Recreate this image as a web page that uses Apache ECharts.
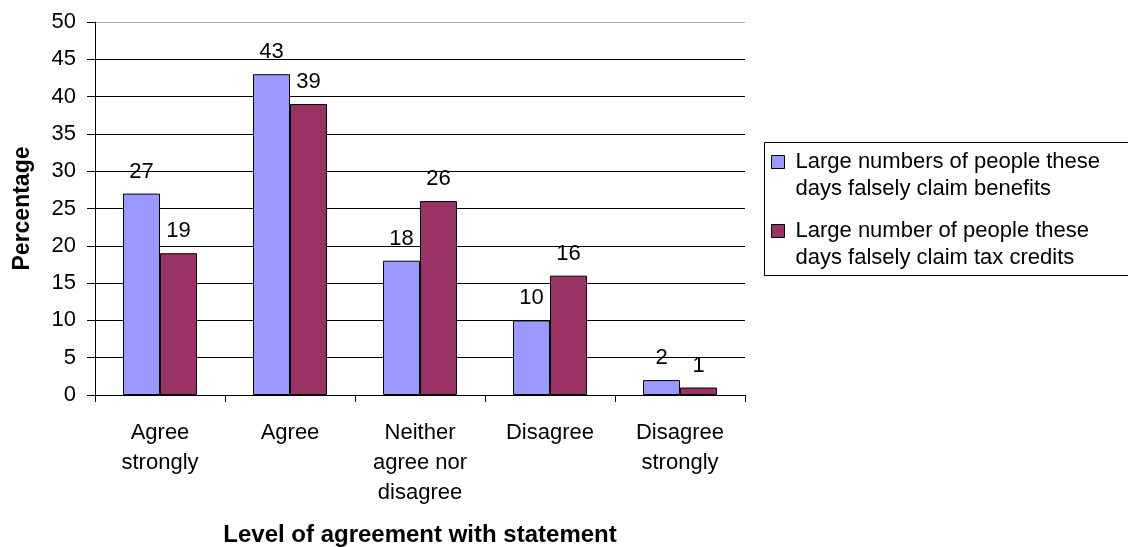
<!DOCTYPE html>
<html><head><meta charset="utf-8">
<script src="https://cdn.jsdelivr.net/npm/echarts@6/dist/echarts.min.js"></script>
<style>html,body{margin:0;padding:0;background:#fff}#c{width:1128px;height:547px}</style>
</head><body><div id="c"></div>
<script>
const categories = ['Agree\nstrongly', 'Agree', 'Neither\nagree nor\ndisagree', 'Disagree', 'Disagree\nstrongly'];
const benefits = [27, 43, 18, 10, 2];
const taxCredits = [19, 39, 26, 16, 1];
const seriesNames = ['Large numbers of people these\ndays falsely claim benefits', 'Large number of people these\ndays falsely claim tax credits'];
const yMin = 0, yMax = 50, yInterval = 5;
const xTitle = 'Level of agreement with statement';
const yTitle = 'Percentage';

const FONT = "'Liberation Sans', Arial, sans-serif";
const FS = 22;
const chart = echarts.init(document.getElementById('c'), null, {renderer: 'canvas'});

function legendFor(name, iconCenterY) {
  return {
    data: [name], orient: 'vertical', left: 771, top: iconCenterY - 41.5, padding: 0,
    icon: 'rect', itemWidth: 13, itemHeight: 13, selectedMode: false,
    formatter: n => '\n' + n,
    itemStyle: {borderColor: '#000', borderWidth: 1},
    textStyle: {fontFamily: FONT, fontSize: FS, color: '#000', lineHeight: 27, padding: [0, 0, 0, 6]}
  };
}

const splitColors = [];
for (let v = yMin; v <= yMax; v += yInterval) splitColors.push(v === yMax ? '#b0b0b0' : '#000');

chart.setOption({
  backgroundColor: '#fff',
  animation: false,
  textStyle: {fontFamily: FONT},
  grid: {left: 95, top: 22, width: 650, height: 373, containLabel: false, outerBoundsMode: 'none'},
  graphic: [{
    type: 'rect', left: 762, top: 140,
    shape: {width: 372, height: 133},
    style: {fill: 'none', stroke: '#000', lineWidth: 1}
  }],
  legend: [legendFor(seriesNames[0], 163), legendFor(seriesNames[1], 232)],
  xAxis: {
    type: 'category', data: categories,
    axisLine: {lineStyle: {color: '#000', width: 1}},
    axisTick: {show: true, length: 7, alignWithLabel: false, lineStyle: {color: '#000'}},
    axisLabel: {fontSize: FS, color: '#000', lineHeight: 30, margin: 23, interval: 0, fontFamily: FONT},
    name: xTitle, nameLocation: 'middle', nameGap: 128,
    nameTextStyle: {fontSize: 24, fontWeight: 'bold', color: '#000', fontFamily: FONT}
  },
  yAxis: {
    type: 'value', min: yMin, max: yMax, interval: yInterval,
    axisLine: {show: true, lineStyle: {color: '#000', width: 1}},
    axisTick: {show: true, length: 8, lineStyle: {color: '#000'}},
    axisLabel: {fontSize: FS, color: '#000', margin: 19, fontFamily: FONT},
    splitLine: {show: true, lineStyle: {color: splitColors, width: 1}},
    name: yTitle, nameLocation: 'middle', nameGap: 61, nameRotate: 90,
    nameTextStyle: {fontSize: 23, fontWeight: 'bold', color: '#000', fontFamily: FONT}
  },
  series: [
    {name: seriesNames[0], type: 'bar', data: benefits, barWidth: 37, barGap: '0%',
     itemStyle: {color: '#9999FF', borderColor: '#000', borderWidth: 1},
     label: {show: true, position: 'top', distance: 11, fontSize: FS, color: '#000', fontFamily: FONT}},
    {name: seriesNames[1], type: 'bar', data: taxCredits, barWidth: 37, barGap: '0%',
     itemStyle: {color: '#993366', borderColor: '#000', borderWidth: 1},
     label: {show: true, position: 'top', distance: 11, fontSize: FS, color: '#000', fontFamily: FONT}}
  ]
});
</script></body></html>
